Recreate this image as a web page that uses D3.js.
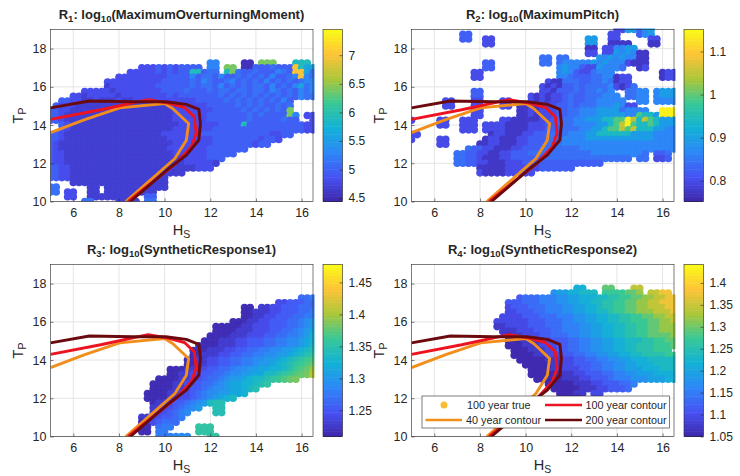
<!DOCTYPE html>
<html><head><meta charset="utf-8">
<style>html,body{margin:0;background:#fff;overflow:hidden}svg{display:block}text{font-family:"Liberation Sans",Arial,sans-serif}</style>
<script src="https://cdn.jsdelivr.net/npm/d3@7"></script>
</head><body>
<script>
// Grid of the gathered points
const hsGrid=[5,5.25,5.5,5.75,6,6.25,6.5,6.75,7,7.25,7.5,7.75,8,8.25,8.5,8.75,9,9.25,9.5,9.75,10,10.25,10.5,10.75,11,11.25,11.5,11.75,12,12.25,12.5,12.75,13,13.25,13.5,13.75,14,14.25,14.5,14.75,15,15.25,15.5,15.75,16,16.25,16.5];
const tpGrid=[19,18.75,18.5,18.25,18,17.75,17.5,17.25,17,16.75,16.5,16.25,16,15.75,15.5,15.25,15,14.75,14.5,14.25,14,13.75,13.5,13.25,13,12.75,12.5,12.25,12,11.75,11.5,11.25,11,10.75,10.5,10.25,10];
const levelKeys="0123456789abcdefghij";
const r1Levels=[4.55,4.68,4.83,4.98,5.12,5.28,5.6,5.9,6.4,7.0];
const r2Levels=[0.775,0.8,0.825,0.84,0.865,0.895,0.94,0.99,1.05,1.14];
const r3Levels=[1.215,1.228,1.242,1.254,1.266,1.278,1.29,1.302,1.314,1.325,1.335,1.345,1.355,1.363,1.37,1.378,1.385,1.395,1.405,1.41];
const r4Levels=[1.055,1.075,1.095,1.115,1.135,1.155,1.175,1.195,1.215,1.235,1.255,1.275,1.295,1.32,1.345,1.375];
// Each row (one per tpGrid entry): "startColumn:levelKeys" runs
const r1Rows=["","","","","","","",
"28:55 34:00 37:888 43:777",
"16:22232323333 28:55 31:88 34:0033343339766",
"14:22222323233773 28:44 31:784 34:3343335439964",
"12:22222222233335344353343434353345954",
"10:2222222222333334354334534343534343455",
"10:1222222223333334344353434344353435645",
"6:22222122222222333343334344344344354343545",
"4:2212222212222222232333333343434343434343544",
"2:33221121112112222222222233333434343434353",
"1:322211111111111111112222222333334343433434",
"0:3322111111111111111111222222233333434343438",
"0:33211111111111111111112222223333333434333385 45:22",
"0:33211111111111111111112222223333333433333433 46:2",
"2:321111111111111111111222222233337333333333322",
"2:321111111111111111112222222333333333333333322",
"0:3321111111111111111122222223333333333332233",
"0:33211111111111111111122222222333333332332",
"0:321111111111111111111122222223333333233",
"0:32111111111111111111122222223333333",
"0:322111111111111111111122222233333",
"0:3221111111111111111111112222333",
"0:322111111111111111111111222221",
"0:33221111111111111111111111222",
"0:332211111111111111111111",
"0:332211111111111111111",
"4:11111111111111111",
"0:44 7:11 10:11111111111",
"0:44 3:22 7:11 10:111111111",
"3:22 7:11 9:111111 17:33",
"6:44 12:1111 17:44"];
const r2Rows=[
"36:11 38:55 40:355",
"9:22 35:11 40:245",
"9:22 13:11 31:55 35:11 42:11",
"13:11 31:55 35:00 37:00 42:00",
"31:00 34:11 36:4455",
"31:11 34:11 36:5454 40:00",
"23:33 26:33 33:545 36:4544 40:00",
"13:22 23:33 26:3444 30:4 31:45454 36:4410 40:00",
"13:22 26:4544211544 36:43 40:01",
"11:11 26:4542113444 44:011",
"11:11 26:4432223344 36:011 44:011",
"24:100 27:333223343 36:011",
"23:1010223233334 36:101 39:3",
"11:22 23:1102223233434 38:33 40:44 43:4555",
"11:22 21:1010112322333444 38:33 40:44 43:4555",
"6:11 11:11 16:11 21:10101123223344444 40:44 43:4444",
"6:11 11:11 16:11 19:0010111223233344454 38:11",
"11:11 19:001011122334445555344 40:44 44:999",
"11:11 19:001011122334445555544766 43:5 44:999",
"0:1 5:11 9:111 16:1100000112233445556677986876 44:555",
"5:11 9:111 13:11 15:11000011122233444455678976676555",
"9:111 13:11 15:11000011122233344556778786665544",
"0:11 14:011000112223334445566666655554444",
"0:1 5:11 13:0110001122233344445555555555554444",
"5:11 12:00110001122233344444444444444444444",
"10:3221100011222333333344444444444444444",
"8:332211001122233333333333444444444 41:3 43:223",
"8:3322100011222222333333333333333 40:33 43:112",
"8:33221100011122222222222222",
"12:00000111111222222",
"12:1000011111",
"","","","","",""];
const r3Rows=["","","","","","","",
"44:445",
"40:2233344",
"34:00 37:1122333444",
"34:0011122333445",
"34:0011223334455",
"32:000112233344567",
"29:000001122233344567",
"29:000011122233445678",
"28:0000111222334455679",
"27:00011122333445566789",
"26:00001112233344556678a",
"25:00011122334455667789ab",
"25:0011122334455667789abc",
"24:001122334455667789abcde",
"24:00112233445567789abcdef",
"21:00011223344566778899abdefh",
"21:00112233445667788aabcdefgi",
"19:00001122344567789aabcdefg",
"18:000011223445678899abc",
"18:00001123345667889ab",
"17:000011223456677889",
"17:000011223456789a",
"18:0112334567abb",
"18:112234567 29:bb",
"18:1223456 29:bb",
"16:11223345",
"16:0123444",
"16:00 19:455 26:ccc",
"16:00 19:55 26:ccc",
"19:555666 28:cc"];
const r4Rows=["","","","","",
"29:88 34:cc 39:ee",
"25:67788999 34:bbbbccd 42:eeff",
"19:3444555667788899aabbccddeeff",
"17:33344455566778899aabbccddeefff",
"17:23334445556677889aabbccddeeeff",
"17:223334455566778899abbccdddeeef",
"16:222233344455566778899aabbccddee",
"15:2222223334445566778899aabbbccdde",
"15:11222233344455566778899aabbccddd",
"16:1112223334455566778899aabbccddd",
"17:011222334445566778899aabbccccd",
"17:000111223334455667788999aabbcc",
"17:00011122233445566778899aaabbbc",
"18:0001112233445566778899aaabbb",
"18:00001122233445566778899aaaabb",
"19:0000011122334455667788899999",
"20:000001122333445566778889999",
"21:00001122233445566777888999",
"21:00000011223334455667778888",
"22:0000011122333455566677788",
"24:0000011122333445",
"25:00000111223334",
"26:00011 32:22",
"27:0001",
"","","","","","","",""];
// Contours
const c40Hs=[5,6.5,8.03,10,10.35,11.05,10.95,10.45,8.3];
const c40Tp=[13.6,14.28,14.9,15.13,14.87,14.08,13.2,12.25,10];
const c100Hs=[5,7.2,9.27,10.07,10.87,11.3,11.38,11.17,10.5,8.4];
const c100Tp=[14.3,14.8,15.33,15.17,14.92,14.43,13.57,12.87,12,10];
const c200Hs=[5,6.7,8.6,10.05,10.95,11.5,11.57,11.5,10.95,10.2,8.5];
const c200Tp=[14.9,15.26,15.22,15.22,15.08,14.82,14.09,13.22,12.43,11.74,10];
const contourColors=["#F28E1C","#EC1420","#6B0A0E"];
const legendNames=["100 year true","40 year contour","100 year contour","200 year contour"];
const xTicks=[6,8,10,12,14,16], yTicks=[10,12,14,16,18];
const r1Ticks=[4.5,5,5.5,6,6.5,7], r2Ticks=[0.8,0.9,1,1.1],
      r3Ticks=[1.25,1.3,1.35,1.4,1.45], r4Ticks=[1.05,1.1,1.15,1.2,1.25,1.3,1.35,1.4];
const r1Range=[4.44,7.45], r2Range=[0.752,1.151], r3Range=[1.209,1.478], r4Range=[1.05,1.442];
const parula=["#3E26A8","#4752F4","#2D87F7","#12B1D6","#37C897","#ABC739","#FEC338","#F9FB15"];

const svg=d3.select("body").append("svg").attr("width",740).attr("height",476);
svg.append("filter").attr("id","soft").attr("x","-5%").attr("y","-5%").attr("width","110%").attr("height","110%")
  .append("feGaussianBlur").attr("stdDeviation",0.5);
const ink="#262626";

function decode(rows,levels){
  const out=[];
  rows.forEach((row,r)=>{
    row.split(" ").filter(Boolean).forEach(run=>{
      const [start,keys]=run.split(":");
      [...keys].forEach((k,i)=>{
        const c=+start+i;
        if(c<hsGrid.length) out.push({hs:hsGrid[c],tp:tpGrid[r],v:levels[levelKeys.indexOf(k)]});
      });
    });
  });
  return out;
}
function subText(sel,parts,subSize,dy){
  parts.forEach(([t,isSub],i)=>{
    const prev=i>0&&parts[i-1][1];
    const ts=sel.append("tspan").text(t);
    if(isSub) ts.attr("font-size",subSize).attr("dy",dy);
    else if(prev) ts.attr("dy",-dy);
  });
}
let clipId=0;
function panel(o){
  const x=d3.scaleLinear().domain([5,16.5]).range([o.left,o.left+262.5]);
  const y=d3.scaleLinear().domain([10,19]).range([o.top+172,o.top]);
  const color=d3.scaleLinear().domain(parula.map((_,i)=>o.range[0]+(o.range[1]-o.range[0])*i/7)).range(parula).clamp(true);
  const g=svg.append("g");
  const grid=g.append("g").attr("stroke","#e4e4e4").attr("stroke-width",1);
  xTicks.forEach(t=>grid.append("line").attr("x1",x(t)).attr("x2",x(t)).attr("y1",y(10)).attr("y2",y(19)));
  yTicks.forEach(t=>grid.append("line").attr("y1",y(t)).attr("y2",y(t)).attr("x1",x(5)).attr("x2",x(16.5)));
  const id="clip"+(clipId++);
  g.append("clipPath").attr("id",id).append("rect").attr("x",x(5)).attr("y",y(19)-1).attr("width",264).attr("height",173);
  const plot=g.append("g").attr("clip-path",`url(#${id})`);
  plot.append("g").attr("filter","url(#soft)").selectAll("circle").data(decode(o.rows,o.levels)).join("circle")
    .attr("cx",d=>x(d.hs)).attr("cy",d=>y(d.tp)).attr("r",3.8).attr("fill",d=>color(d.v));
  const line=d3.line().x(d=>x(d[0])).y(d=>y(d[1]));
  [[c40Hs,c40Tp],[c100Hs,c100Tp],[c200Hs,c200Tp]].forEach(([h,t],i)=>{
    plot.append("path").attr("d",line(h.map((v,j)=>[v,t[j]]))).attr("fill","none")
      .attr("stroke",contourColors[i]).attr("stroke-width",2.9).attr("stroke-linejoin","round");
  });
  // box and axes
  g.append("rect").attr("x",x(5)).attr("y",y(19)).attr("width",262.5).attr("height",172).attr("fill","none").attr("stroke",ink).attr("stroke-width",0.6);
  const ax=g.append("g").attr("transform",`translate(0,${y(10)})`).call(d3.axisBottom(x).tickValues(xTicks).tickSize(-3).tickPadding(7));
  const ay=g.append("g").attr("transform",`translate(${x(5)},0)`).call(d3.axisLeft(y).tickValues(yTicks).tickSize(-3).tickPadding(4));
  [ax,ay].forEach(a=>{
    a.select(".domain").remove();
    a.selectAll("line").attr("stroke",ink).attr("stroke-width",0.6);
    a.selectAll("text").attr("fill",ink).attr("font-size",12.5).attr("font-family","Liberation Sans");
  });
  // titles
  const cx=o.left+131;
  subText(g.append("text").attr("x",cx).attr("y",o.top-10.5).attr("text-anchor","middle").attr("font-weight","bold").attr("font-size",13).attr("fill",ink),
    [["R"],[o.sub,1],[": log"],["10",1],["("+o.name+")"]],9.5,3);
  subText(g.append("text").attr("x",cx).attr("y",o.top+205).attr("text-anchor","middle").attr("font-size",14.5).attr("fill",ink),[["H"],["S",1]],10.5,3);
  subText(g.append("text").attr("transform",`translate(${o.left-28},${o.top+86}) rotate(-90)`).attr("text-anchor","middle").attr("font-size",14.5).attr("fill",ink),[["T"],["P",1]],10.5,3);
  // colour bar
  const cbx=o.left+272.5, cbw=19.5;
  const cy=d3.scaleLinear().domain(o.range).range([o.top+172,o.top]);
  const n=64;
  d3.range(n).forEach(i=>{
    const v=o.range[0]+(o.range[1]-o.range[0])*(i+0.5)/n;
    g.append("rect").attr("x",cbx).attr("width",cbw).attr("y",cy(o.range[0]+(o.range[1]-o.range[0])*(i+1)/n)).attr("height",172/n+0.5).attr("fill",color(v));
  });
  g.append("rect").attr("x",cbx).attr("y",o.top).attr("width",cbw).attr("height",172).attr("fill","none").attr("stroke",ink).attr("stroke-width",0.6);
  const ac=g.append("g").attr("transform",`translate(${cbx+cbw},0)`).call(d3.axisRight(cy).tickValues(o.ticks).tickSize(-3).tickPadding(6).tickFormat(d=>String(d)));
  ac.select(".domain").remove();
  ac.selectAll("line").attr("stroke",ink).attr("stroke-width",0.6);
  ac.selectAll("text").attr("fill",ink).attr("font-size",12).attr("font-family","Liberation Sans");
  return {x,y,g};
}
panel({left:50.5,top:29.5,rows:r1Rows,levels:r1Levels,range:r1Range,ticks:r1Ticks,sub:"1",name:"MaximumOverturningMoment"});
panel({left:411.5,top:29.5,rows:r2Rows,levels:r2Levels,range:r2Range,ticks:r2Ticks,sub:"2",name:"MaximumPitch"});
panel({left:50.5,top:264.5,rows:r3Rows,levels:r3Levels,range:r3Range,ticks:r3Ticks,sub:"3",name:"SyntheticResponse1"});
panel({left:411.5,top:264.5,rows:r4Rows,levels:r4Levels,range:r4Range,ticks:r4Ticks,sub:"4",name:"SyntheticResponse2"});
// legend in the fourth panel
const lg=svg.append("g").attr("transform","translate(422,396)");
lg.append("rect").attr("width",247.5).attr("height",32).attr("fill","#fff").attr("stroke",ink).attr("stroke-width",0.6);
lg.append("circle").attr("cx",22).attr("cy",9).attr("r",3.5).attr("fill","#F8BC35");
const legendLines=[[3.5,40,24,0],[123,160,9,1],[123,160,24,2]];
legendLines.forEach(([a,b,yy,c])=>lg.append("line").attr("x1",a).attr("x2",b).attr("y1",yy).attr("y2",yy).attr("stroke",contourColors[c]).attr("stroke-width",2.7));
[[45,13],[44,28],[163.5,13],[163.5,28]].forEach((p,i)=>lg.append("text").attr("x",p[0]).attr("y",p[1]).attr("font-size",10.8).attr("fill",ink).text(legendNames[i]));
</script>
</body></html>
